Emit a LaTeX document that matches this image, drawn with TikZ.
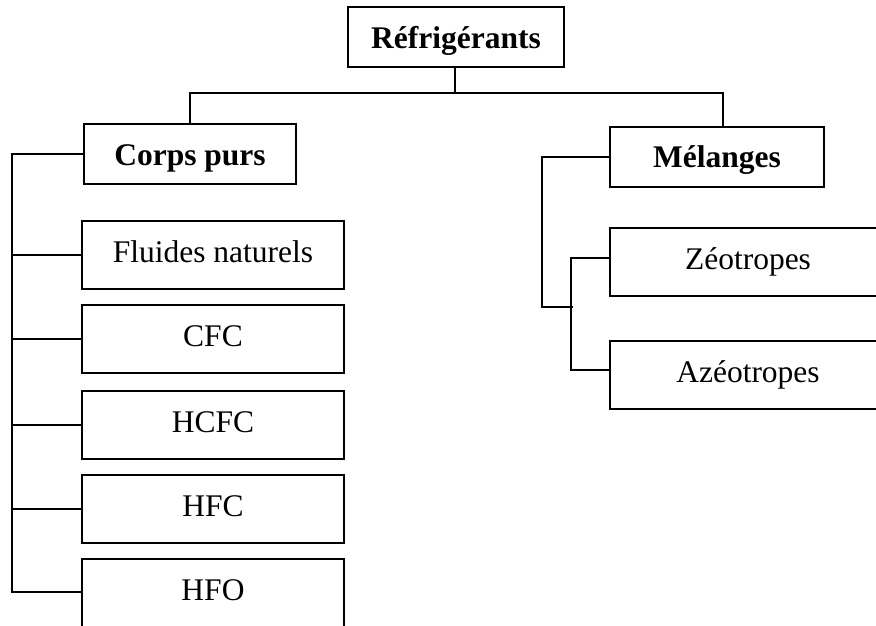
\documentclass[tikz,border=0pt]{standalone}
\usepackage{fontspec}
\setmainfont{Liberation Serif}
\begin{document}
\begin{tikzpicture}[x=1pt,y=-1pt,line width=2pt,
  box/.style={draw,rectangle,inner sep=0pt,outer sep=0pt,font=\fontsize{31.5}{36}\selectfont,text height=21pt,text depth=7pt},
  smallbox/.style={box,minimum width=262pt,minimum height=68pt},
  mixbox/.style={box,minimum width=276pt,minimum height=68pt}]
\useasboundingbox (0,0) rectangle (876,625);
\clip (0,0) rectangle (876,625);
\node[box,minimum width=216pt,minimum height=60pt,text height=24pt,text depth=1pt] (R) at (456,37) {\textbf{Réfrigérants}};
\node[box,minimum width=212pt,minimum height=60pt,text height=23pt,text depth=1pt] (CP) at (190,154) {\textbf{Corps purs}};
\node[box,minimum width=214pt,minimum height=60pt,text height=22pt,text depth=2pt] (M) at (717,157) {\textbf{Mélanges}};
\node[smallbox] (FN) at (213,255) {Fluides naturels};
\node[smallbox] (CFC) at (213,339) {CFC};
\node[smallbox] (HCFC) at (213,425) {HCFC};
\node[smallbox] (HFC) at (213,509) {HFC};
\node[smallbox,minimum height=72pt,text height=21pt,text depth=11pt] (HFO) at (213,595) {HFO};
\node[mixbox] (Z) at (748,262) {Zéotropes};
\node[mixbox] (A) at (748,375) {Azéotropes};
% top bus
\coordinate (bus) at (455,93);
\coordinate (lb) at (12,0);
\draw (bus) -- (bus |- R.south);
\draw (CP.north) |- (bus) -| ([xshift=6pt]M.north);
% left bus
\draw (CP.west) -- (CP.west -| lb) -- (12,592) -- (HFO.west |- 0,592);
\foreach \n in {FN,CFC,HCFC,HFC} \draw (\n.west -| lb) -- (\n.west);
% mixtures
\draw (M.west) -| (542,307) -- (573,307);
\draw ([yshift=4pt]Z.west) -- ++(-39,0) |- ([yshift=5pt]A.west);
\end{tikzpicture}
\end{document}
